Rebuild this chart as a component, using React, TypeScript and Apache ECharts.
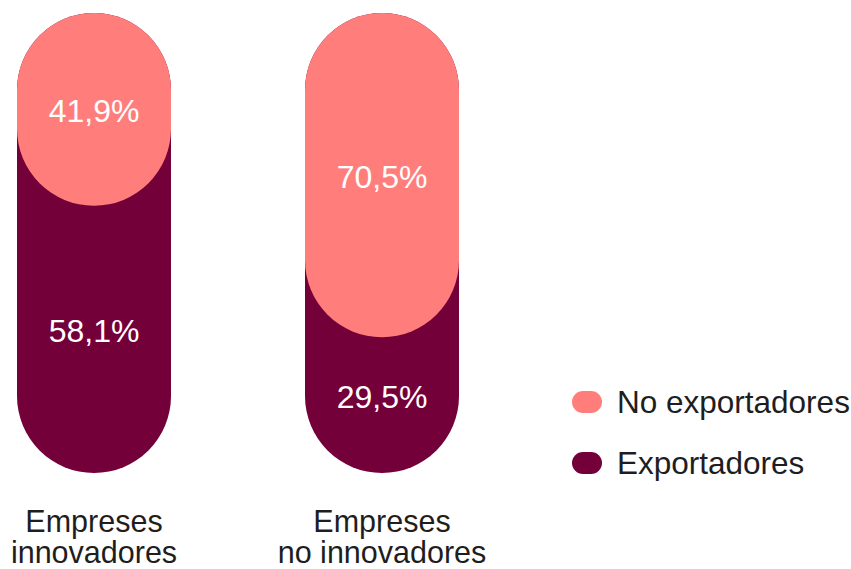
import React, { useEffect, useRef } from "react";
import * as echarts from "echarts";

const categories = ["Empreses\ninnovadores", "Empreses\nno innovadores"];
const noExportadores = [41.9, 70.5];
const exportadores = [58.1, 29.5];
const legendNames = ["No exportadores", "Exportadores"];

const PINK = "#FF7E7C";
const DARK = "#74003A";
const FONT = "Liberation Sans, Arial, sans-serif";

const fmt = (v: number) => v.toFixed(1).replace(".", ",") + "%";

export default function App() {
  const ref = useRef<HTMLDivElement>(null);
  useEffect(() => {
    if (!ref.current) return;
    const chart = echarts.init(ref.current, undefined, { renderer: "svg" });
    const totals = noExportadores.map((v, i) => v + exportadores[i]);
    const barW = 154;
    const radius = 77;
    const valueLabel = {
      show: true,
      position: "inside",
      color: "#ffffff",
      fontSize: 32,
      fontFamily: FONT,
      formatter: (p: any) => fmt(p.value),
    };
    chart.setOption({
      animation: false,
      grid: {
        left: 94,
        width: 288,
        top: 13,
        height: 460,
        containLabel: false,
        outerBoundsMode: "none",
      },
      legend: {
        data: legendNames,
        orient: "vertical",
        left: 572,
        top: 386,
        padding: 0,
        itemWidth: 30,
        itemHeight: 22,
        itemGap: 29,
        icon: "path://M11,0 H19 A11,11 0 0 1 19,22 H11 A11,11 0 0 1 11,0 Z",
        textStyle: {
          fontSize: 31.5,
          color: "#1e1e1e",
          fontFamily: FONT,
          padding: [0, 0, 0, 10],
        },
        selectedMode: false,
      },
      xAxis: {
        type: "category",
        data: categories,
        boundaryGap: false,
        axisLine: { show: false },
        axisTick: { show: false },
        axisLabel: {
          interval: 0,
          fontSize: 30.5,
          lineHeight: 31,
          color: "#1e1e1e",
          fontFamily: FONT,
          margin: 32,
        },
      },
      yAxis: {
        type: "value",
        min: 0,
        max: 100,
        inverse: true,
        show: false,
        splitLine: { show: false },
      },
      series: [
        {
          name: legendNames[1],
          type: "bar",
          data: totals,
          barWidth: barW,
          barGap: "-100%",
          clip: false,
          itemStyle: { color: DARK, borderRadius: radius },
          z: 1,
        },
        {
          name: legendNames[0],
          type: "bar",
          data: noExportadores,
          barWidth: barW,
          barGap: "-100%",
          clip: false,
          itemStyle: { color: PINK, borderRadius: radius },
          label: { ...valueLabel, offset: [0, 2] },
          z: 2,
        },
        {
          name: "_spacer",
          type: "bar",
          stack: "lbl",
          data: noExportadores,
          barWidth: barW,
          barGap: "-100%",
          clip: false,
          itemStyle: { color: "rgba(0,0,0,0)" },
          silent: true,
          z: 3,
        },
        {
          name: "_lbl",
          type: "bar",
          stack: "lbl",
          data: exportadores,
          barWidth: barW,
          barGap: "-100%",
          clip: false,
          itemStyle: { color: "rgba(0,0,0,0)" },
          label: { ...valueLabel, offset: [0, -8] },
          silent: true,
          z: 3,
        },
      ],
    });
    return () => chart.dispose();
  }, []);
  return (
    <div
      ref={ref}
      style={{ position: "absolute", left: 0, top: 0, width: 851, height: 569 }}
    />
  );
}
